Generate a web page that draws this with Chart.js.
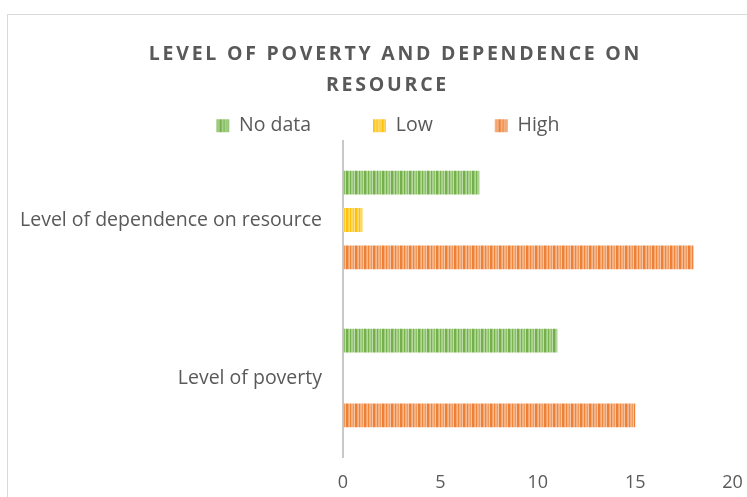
<!DOCTYPE html>
<html>
<head>
<meta charset="utf-8">
<script src="https://cdn.jsdelivr.net/npm/chart.js@4.4.0/dist/chart.umd.min.js"></script>
<style>
  html, body { margin: 0; padding: 0; background: #ffffff; overflow: hidden; width: 747px; height: 497px; }
  #wrap { position: absolute; left: 7px; top: 14px; width: 770px; height: 490px; border: 1px solid #d9d9d9; box-sizing: border-box; background: #fff; }
  canvas { display: block; }
</style>
</head>
<body>
<div id="wrap"><canvas id="c" width="768" height="488"></canvas></div>
<script>
const titleLines = ["LEVEL OF POVERTY AND DEPENDENCE ON", "RESOURCE"];
const categories = ["Level of dependence on resource", "Level of poverty"];
const seriesNames = ["No data", "Low", "High"];
const noDataValues = [7, 11];
const lowValues = [1, null];
const highValues = [18, 15];
const xTicks = [0, 5, 10, 15, 20];

function stripePattern(shades) {
  const widths = [1, 2, 1, 1, 2, 1, 1, 1, 2, 1, 1, 2, 1, 1];
  const total = widths.reduce((a, b) => a + b, 0);
  const c = document.createElement('canvas');
  c.width = total; c.height = 4;
  const g = c.getContext('2d');
  let x = 0;
  widths.forEach((w, i) => {
    g.fillStyle = shades[i % shades.length];
    g.fillRect(x, 0, w, 4);
    x += w;
  });
  return g.createPattern(c, 'repeat');
}
const greenFill = stripePattern(['#78b24f', '#a9d18e', '#8cc167', '#bfdcab', '#74af4b', '#9ccb7b', '#b3d79b']);
const yellowFill = stripePattern(['#ffc20a', '#ffd966', '#ffcb33', '#ffe08a', '#ffc20a', '#ffd24d', '#ffdc75']);
const orangeFill = stripePattern(['#ef843b', '#f4b183', '#f19a60', '#f7c4a2', '#ee8036', '#f3a670', '#f5b98f']);

const titlePlugin = {
  id: 'excelTitle',
  afterInit(chart) {
    const lg = chart.legend;
    if (lg && !lg._wrapped) {
      const origFit = lg.fit;
      lg.fit = function () { origFit.apply(this, arguments); this.height -= 4.5; };
      const origDraw = lg.draw;
      lg.draw = function () {
        const ctx = this.ctx;
        ctx.save();
        ctx.translate(17.5, 0);
        origDraw.apply(this, arguments);
        ctx.restore();
      };
      lg._wrapped = true;
    }
  },
  afterDraw(chart) {
    const ctx = chart.ctx;
    ctx.save();
    ctx.font = 'bold 19.5px "Open Sans"';
    ctx.fillStyle = '#595959';
    ctx.textAlign = 'center';
    ctx.textBaseline = 'middle';
    if ('letterSpacing' in ctx) ctx.letterSpacing = '2.75px';
    ctx.fillText(titleLines[0], 387.5, 39);
    ctx.fillText(titleLines[1], 379.5, 70);
    ctx.restore();
  }
};

new Chart(document.getElementById('c'), {
  type: 'bar',
  data: {
    labels: categories,
    datasets: [
      { label: seriesNames[0], data: noDataValues, backgroundColor: greenFill, borderWidth: 0 },
      { label: seriesNames[1], data: lowValues, backgroundColor: yellowFill, borderWidth: 0 },
      { label: seriesNames[2], data: highValues, backgroundColor: orangeFill, borderWidth: 0 }
    ]
  },
  options: {
    indexAxis: 'y',
    responsive: false,
    animation: false,
    devicePixelRatio: 1,
    layout: { padding: { top: 39, right: 43.4, bottom: 6, left: 0 } },
    datasets: { bar: { categoryPercentage: 0.71, barPercentage: 0.64 } },
    plugins: {
      title: { display: false },
      tooltip: { enabled: false },
      legend: {
        position: 'top',
        align: 'center',
        labels: {
          boxWidth: 13,
          boxHeight: 13,
          padding: 62,
          color: '#595959',
          font: { family: '"Open Sans"', size: 19.5 }
        }
      }
    },
    scales: {
      x: {
        min: 0, max: 20,
        afterBuildTicks(scale) { scale.ticks = xTicks.map(v => ({ value: v })); },
        afterFit(scale) { scale.height = 40; },
        grid: { display: false, drawTicks: false },
        border: { display: false },
        ticks: { color: '#595959', padding: 15, font: { family: '"Open Sans"', size: 18 } }
      },
      y: {
        afterFit(scale) { scale.width = 335; },
        grid: { display: false, drawTicks: false },
        border: { display: true, color: '#c8c8c8', width: 2 },
        ticks: { color: '#595959', padding: 21, font: { family: '"Open Sans"', size: 19.5 } }
      }
    }
  },
  plugins: [titlePlugin]
});
</script>
</body>
</html>
